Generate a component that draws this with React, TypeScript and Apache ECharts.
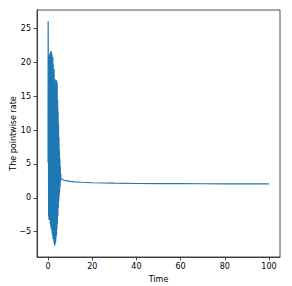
import React, { useEffect, useRef } from "react";
import * as echarts from "echarts";

const times: number[] = [
  0.0, 0.05, 0.15, 0.25, 0.35, 0.45, 0.55, 0.65, 0.75, 0.85, 0.95, 1.05, 1.15, 1.25, 1.35, 1.45,
  1.55, 1.65, 1.75, 1.85, 1.95, 2.05, 2.15, 2.25, 2.35, 2.45, 2.55, 2.65, 2.75, 2.85, 2.95, 3.05,
  3.15, 3.25, 3.35, 3.45, 3.55, 3.65, 3.75, 3.85, 3.95, 4.05, 4.15, 4.25, 4.35, 4.45, 4.55, 4.65,
  4.75, 4.85, 4.95, 5.05, 5.15, 5.25, 5.35, 5.45, 5.55, 5.65, 5.75, 5.85, 6.0, 6.5, 7, 8, 10, 12,
  15, 20, 25, 30, 40, 50, 60, 70, 80, 90, 100,
];

const rates: number[] = [
  5.2, 26.1, 17.9, -2.8, 20.4, -3.3, 20.9, -2.1, 21.3, -3.3, 21.0, -3.9, 21.7, -4.2, 21.4, -4.7,
  21.6, -4.4, 21.2, -5.3, 20.6, -5.6, 20.8, -6.1, 19.7, -5.8, 18.9, -6.6, 19.0, -6.9, 16.4, -7.1,
  16.6, -6.8, 17.5, -6.5, 17.4, -5.9, 17.2, -5.5, 17.3, -4.6, 16.9, -3.8, 14.5, -2.7, 12.8, -1.6,
  11.0, -0.5, 8.9, 0.2, 7.0, 0.9, 5.8, 1.6, 4.6, 2.4, 3.6, 2.8, 2.85, 2.7, 2.62, 2.52, 2.42, 2.36,
  2.29, 2.22, 2.18, 2.15, 2.11, 2.09, 2.08, 2.07, 2.06, 2.05, 2.05,
];

const xTicks: number[] = [0, 20, 40, 60, 80, 100];
const yTicks: number[] = [-5, 0, 5, 10, 15, 20, 25];

const fmt = (v: number) => String(v).replace("-", "\u2212");

export default function App() {
  const ref = useRef<HTMLDivElement>(null);
  useEffect(() => {
    if (!ref.current) return;
    const chart = echarts.init(ref.current, null, { renderer: "svg" });
    const data = times.map((t, i) => [t, rates[i]]);
    const font = "DejaVu Sans";
    chart.setOption({
      animation: false,
      backgroundColor: "#fff",
      grid: {
        left: 37,
        right: 12,
        top: 10,
        bottom: 29,
        containLabel: false,
        outerBoundsMode: "none",
        show: true,
        borderColor: "#222",
        borderWidth: 0.8,
        backgroundColor: "transparent",
      },
      xAxis: {
        type: "value",
        min: -5,
        max: 105,
        name: "Time",
        nameLocation: "middle",
        nameGap: 18,
        nameMoveOverlap: false,
        nameTextStyle: { fontFamily: font, fontSize: 8, color: "#000" },
        axisLine: { show: true, onZero: false, lineStyle: { color: "#222", width: 0.8 } },
        axisTick: { show: true, length: 3.5, customValues: xTicks, lineStyle: { color: "#222", width: 0.8 } },
        axisLabel: { customValues: xTicks, fontFamily: font, fontSize: 8, color: "#000", margin: 5, formatter: fmt },
        splitLine: { show: false },
      },
      yAxis: {
        type: "value",
        min: -8.76,
        max: 27.76,
        name: "The pointwise rate",
        nameLocation: "middle",
        nameGap: 20,
        nameMoveOverlap: false,
        nameTextStyle: { fontFamily: font, fontSize: 8, color: "#000" },
        axisLine: { show: true, onZero: false, lineStyle: { color: "#222", width: 0.8 } },
        axisTick: { show: true, length: 3.5, customValues: yTicks, lineStyle: { color: "#222", width: 0.8 } },
        axisLabel: { customValues: yTicks, fontFamily: font, fontSize: 8, color: "#000", margin: 6, formatter: fmt },
        splitLine: { show: false },
      },
      series: [
        {
          type: "line",
          data,
          showSymbol: false,
          symbol: "none",
          lineStyle: { color: "#1f77b4", width: 1.2 },
          itemStyle: { color: "#1f77b4" },
        },
      ],
    });
    return () => chart.dispose();
  }, []);
  return <div ref={ref} style={{ position: "fixed", left: 0, top: 0, width: 292, height: 286 }} />;
}
